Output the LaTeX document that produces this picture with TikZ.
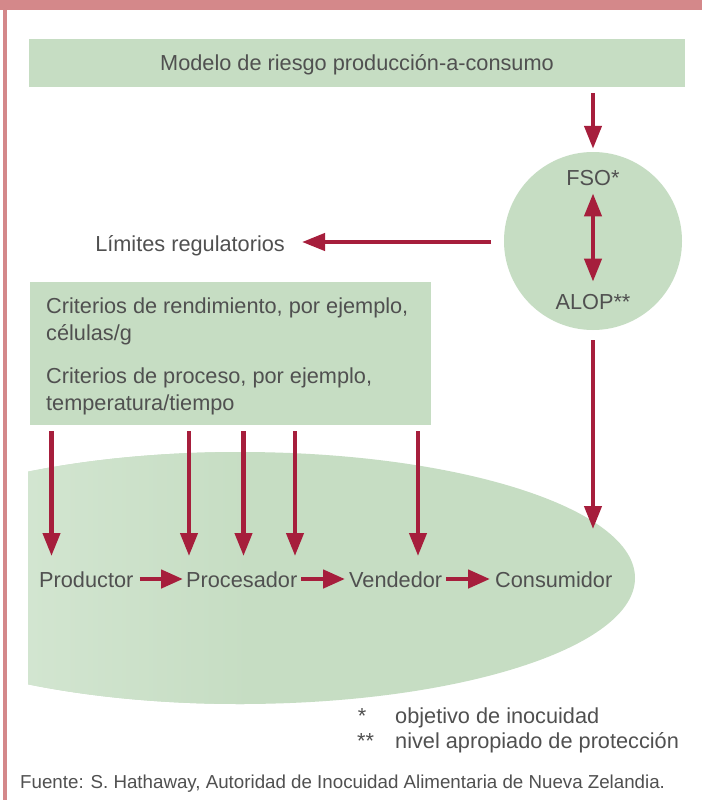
\documentclass[tikz,border=0pt]{standalone}
\usepackage{fontspec}
\setmainfont{Liberation Sans}
\usetikzlibrary{arrows.meta}
\definecolor{pinkb}{HTML}{D4888A}
\definecolor{boxg}{HTML}{C6DDC3}
\definecolor{ellL}{HTML}{D2E5D0}
\definecolor{arrc}{HTML}{A61E3C}
\definecolor{txt}{HTML}{505050}
\begin{document}
\begin{tikzpicture}[x=1bp,y=-1bp,
  every node/.style={text=txt, font=\fontsize{21.8}{27}\selectfont, inner sep=0pt},
  gbox/.style={fill=boxg, draw=none},
  arr/.style={draw=arrc, line width=4.2bp, -{Triangle[width=17bp,length=23bp]}},
  darr/.style={draw=arrc, line width=4.2bp, {Triangle[width=17bp,length=23bp]}-{Triangle[width=17bp,length=23bp]}},
  carr/.style={draw=arrc, line width=4.6bp, -{Triangle[width=18bp,length=22bp]}},
  foot/.style={font=\fontsize{18.8}{22}\selectfont}]
\useasboundingbox (0,0) rectangle (702,800);
\fill[white] (0,0) rectangle (702,800);
\fill[pinkb] (0,0) rectangle (702,10);
\fill[pinkb] (3.3,0) rectangle (6.5,800);

% large ellipse (clipped on the left)
\begin{scope}
  \clip (28,430) rectangle (702,730);
  \clip (240,578) ellipse [x radius=395, y radius=126];
  \fill[boxg] (28,430) rectangle (702,730);
  \shade[left color=ellL, right color=boxg] (28,430) rectangle (250,730);
\end{scope}

% top box
\node[gbox, minimum width=656bp, minimum height=48bp, text height=16bp, text depth=0bp]
  (model) at (357,63) {Modelo de riesgo producción-a-consumo};

% circle
\node[circle, fill=boxg, minimum size=178bp] (circ) at (593,241) {};
\node[anchor=base] (fso) at (593,185) {FSO*};
\node[anchor=base] (alop) at (593,309) {ALOP**};

% limits
\node[anchor=base east] (lim) at (285,251) {Límites regulatorios};

% criteria box
\node[gbox, anchor=north west, minimum width=401bp, minimum height=143bp] (crit) at (30,282) {};
\node[anchor=north west, align=left] (crittext) at (46,297.5)
  {Criterios de rendimiento, por ejemplo,\\ células/g\\[16bp]
   Criterios de proceso, por ejemplo,\\ temperatura/tiempo};

% chain
\node[anchor=base west] (prod) at (39,587) {Productor};
\node[anchor=base west] (proc) at (186,587) {Procesador};
\node[anchor=base west] (vend) at (349,587) {Vendedor};
\node[anchor=base west] (cons) at (495,587) {Consumidor};

% footnotes
\node[anchor=base] (s1) at (362,723) {*};
\node[anchor=base west] (n1) at (395,723) {objetivo de inocuidad};
\node[anchor=base west] (s2) at (357,748) {**};
\node[anchor=base west] (n2) at (395,748) {nivel apropiado de protección};
\node[foot, anchor=base west] (src) at (20,788)
  {Fuente: S. Hathaway, Autoridad de Inocuidad Alimentaria de Nueva Zelandia.};

% coordinates for arrow ends
\coordinate (topstart) at (593,93);
\coordinate (limstart) at (491,242);
\coordinate (limtip) at (302,242);
\coordinate (cstart) at (593,340);
\coordinate (ctip) at (593,529);

% arrows
\draw[arr] (topstart) -- ([yshift=3bp]circ.north);
\draw[darr] ([yshift=-8bp]fso.south) -- ([yshift=12bp]alop.north);
\draw[arr] (limstart) -- (limtip);
\draw[arr] (cstart) -- (ctip);
\foreach \x [count=\i] in {51.5,189,243.5,295,418} {
  \coordinate (cs\i) at (\x,431);
  \coordinate (ct\i) at (\x,556);
  \draw[arr] (cs\i) -- (ct\i);
}
\draw[carr] ([shift={(6,-8)}]prod.base east) -- ([shift={(-3,-8)}]proc.base west);
\draw[carr] ([shift={(4,-8)}]proc.base east) -- ([shift={(-4,-8)}]vend.base west);
\draw[carr] ([shift={(4,-8)}]vend.base east) -- ([shift={(-5,-8)}]cons.base west);
\end{tikzpicture}
\end{document}
